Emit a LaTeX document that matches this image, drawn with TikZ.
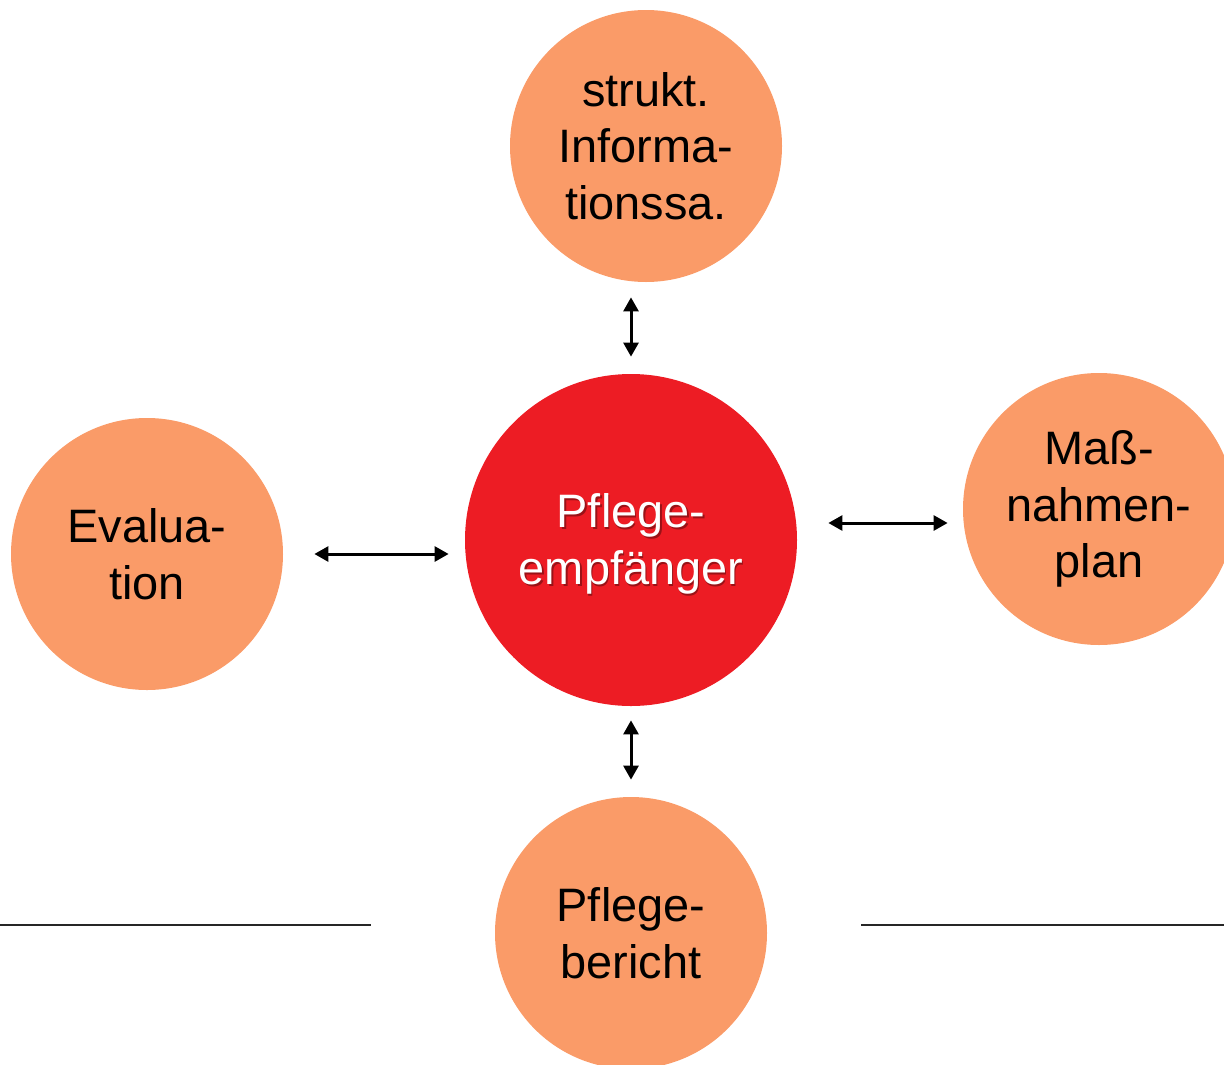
\documentclass[tikz,border=0pt]{standalone}
\usepackage{fontspec}
\setmainfont{Liberation Sans}
\usetikzlibrary{arrows.meta}
\definecolor{orangefill}{RGB}{250,155,104}
\definecolor{redfill}{RGB}{237,28,36}
\tikzset{
  sat/.style={circle, fill=orangefill, minimum size=272*0.02cm, inner sep=0pt,
    align=center, font=\fontsize{26.7pt}{32.3pt}\selectfont, text=black},
  hub/.style={circle, fill=redfill, minimum size=332*0.02cm, inner sep=0pt},
  hubtext/.style={align=center, font=\fontsize{26.7pt}{32.3pt}\selectfont},
  dbl/.style={line width=1.7pt, {Triangle[length=8pt,width=8.5pt]}-{Triangle[length=8pt,width=8.5pt]}},
  rule/.style={line width=0.6pt, draw=black!85}
}
\begin{document}
\begin{tikzpicture}[x=0.02cm, y=-0.02cm]
\useasboundingbox (0,0) rectangle (1224,1065);
\clip (0,0) rectangle (1224,1065);
\node[sat] (top) at (646,146) {strukt.\\Informa-\\tionssa.};
\node[hub] (center) at (631,540) {};
\node[hubtext, text=black, opacity=0.35] (shadow) at (632.5,545.5) {Pflege-\\empfänger};
\node[hubtext, text=white] (centertext) at (631,544) {Pflege-\\empfänger};
\node[sat] (left) at (147,554) {Evalua-\\tion};
\node[sat] (right) at (1099,509) {Maß-\\nahmen-\\plan};
\node[sat] (bottom) at (631,933) {Pflege-\\bericht};
\draw[dbl, shorten <=15*0.02cm, shorten >=17*0.02cm] (top.south -| center) -- (center.north);
\draw[dbl, shorten <=14*0.02cm, shorten >=17*0.02cm] (center.south) -- (bottom.north);
\draw[dbl, shorten <=31*0.02cm, shorten >=16*0.02cm] (left.east) -- (left.east -| center.west);
\draw[dbl] ([shift={(31,-17)}]center.east) -- ([shift={(-15,14)}]right.west);
\coordinate (l1) at (0,925);
\coordinate (l2) at (371,925);
\coordinate (r1) at (861,925);
\coordinate (r2) at (1224,925);
\draw[rule] (l1) -- (l2);
\draw[rule] (r1) -- (r2);
\end{tikzpicture}
\end{document}
